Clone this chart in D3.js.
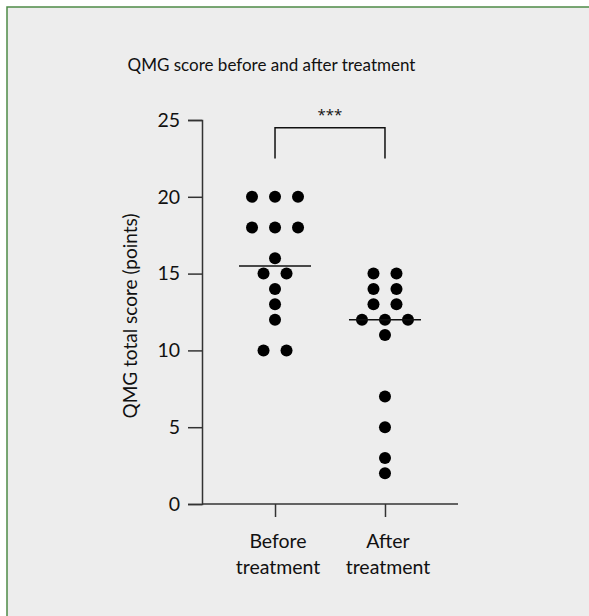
<!DOCTYPE html>
<html>
<head>
<meta charset="utf-8">
<script src="https://cdn.jsdelivr.net/npm/d3@7/dist/d3.min.js"></script>
<style>
  html, body { margin: 0; padding: 0; background: #ffffff; }
  svg { display: block; }
  text { font-family: Lato, "Open Sans", sans-serif; fill: #111; }
</style>
</head>
<body>
<script>
// Groups and individual QMG scores
const groups = ["Before treatment", "After treatment"];
const beforeScores = [20, 20, 20, 18, 18, 18, 16, 15, 15, 14, 13, 12, 10, 10];
const afterScores = [15, 15, 14, 14, 13, 13, 12, 12, 12, 11, 7, 5, 3, 2];
const yTicks = [0, 5, 10, 15, 20, 25];
const significance = "***";

const W = 589, H = 616;
const svg = d3.select("body").append("svg").attr("width", W).attr("height", H);

// Panel background with a green rule on the top and left edges
svg.append("rect").attr("x", 7).attr("y", 7).attr("width", W).attr("height", H)
  .attr("fill", "#ededed");
svg.append("path").attr("d", `M7,${H} V7 H${W}`)
  .attr("fill", "none").attr("stroke", "#4e8b47").attr("stroke-width", 1.5);

const x = d3.scalePoint().domain(groups).range([202, 458]).padding(0.664);
const y = d3.scaleLinear().domain([0, 25]).range([504, 120]);

// Axes
const yAxis = d3.axisLeft(y).tickValues(yTicks).tickSize(14).tickPadding(8);
const gy = svg.append("g").attr("transform", "translate(202,0)").call(yAxis);
const xAxis = d3.axisBottom(x).tickSize(13).tickFormat("");
const gx = svg.append("g").attr("transform", "translate(0,504)").call(xAxis);
[gx, gy].forEach(g => {
  g.select(".domain").attr("stroke", "#333").attr("stroke-width", 1.5);
  g.selectAll(".tick line").attr("stroke", "#333").attr("stroke-width", 1.5);
});
gy.attr("font-size", 19.5);
gy.selectAll(".tick text").attr("fill", "#111");
// x-axis domain spans the range only
gx.select(".domain").attr("d", `M202,0H458`);

// Two-line category labels
groups.forEach(g => {
  const words = g.split(" ");
  const t = svg.append("text").attr("text-anchor", "middle")
    .attr("font-size", 19.5).attr("x", x(g) + 3);
  words.forEach((w, i) => {
    t.append("tspan").attr("x", x(g) + 3).attr("y", 548 + i * 26).text(w);
  });
});

// Y axis title
svg.append("text").attr("text-anchor", "middle").attr("font-size", 19)
  .attr("transform", `translate(137,316) rotate(-90)`)
  .text("QMG total score (points)");

// Chart title
svg.append("text").attr("x", 271.5).attr("y", 71).attr("text-anchor", "middle")
  .attr("font-size", 17).text("QMG score before and after treatment");

// Lay out points of equal value side by side
const spacing = 23;
function scatter(values, group) {
  const counts = d3.rollup(values, v => v.length, v => v);
  const seen = new Map();
  return values.map(v => {
    const n = counts.get(v);
    const i = seen.get(v) || 0;
    seen.set(v, i + 1);
    return { group, value: v, cx: x(group) + (i - (n - 1) / 2) * spacing };
  });
}
const points = scatter(beforeScores, groups[0]).concat(scatter(afterScores, groups[1]));

svg.append("g").selectAll("circle").data(points).join("circle")
  .attr("cx", d => d.cx).attr("cy", d => y(d.value)).attr("r", 6)
  .attr("fill", "#000");

// Median lines
const medians = [
  { group: groups[0], value: d3.median(beforeScores) },
  { group: groups[1], value: d3.median(afterScores) }
];
svg.append("g").selectAll("line").data(medians).join("line")
  .attr("x1", d => x(d.group) - 36).attr("x2", d => x(d.group) + 36)
  .attr("y1", d => y(d.value)).attr("y2", d => y(d.value))
  .attr("stroke", "#111").attr("stroke-width", 1.5);

// Significance bracket
const bTop = 24.5, bBottom = 22.5;
svg.append("path")
  .attr("d", `M${x(groups[0])},${y(bBottom)}V${y(bTop)}H${x(groups[1])}V${y(bBottom)}`)
  .attr("fill", "none").attr("stroke", "#111").attr("stroke-width", 1.5);
svg.append("text").attr("x", (x(groups[0]) + x(groups[1])) / 2).attr("y", 120)
  .attr("text-anchor", "middle").attr("font-size", 15)
  .style("font-family", "'Open Sans', sans-serif").text(significance);
</script>
</body>
</html>
